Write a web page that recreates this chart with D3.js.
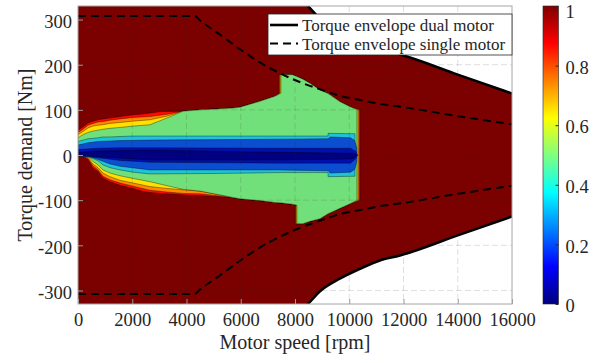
<!DOCTYPE html>
<html>
<head>
<meta charset="utf-8">
<script src="https://cdn.jsdelivr.net/npm/d3@7"></script>
<style>
  html, body { margin: 0; padding: 0; background: #fff; }
  svg { display: block; }
  text { font-family: "Liberation Serif", "Times New Roman", serif; fill: #262626; }
</style>
</head>
<body>
<svg id="chart" width="601" height="363"></svg>
<script>
// ---------------- data ----------------
// Axis ticks
const speedTicks = [0, 2000, 4000, 6000, 8000, 10000, 12000, 14000, 16000];
const torqueTicks = [-300, -200, -100, 0, 100, 200, 300];
const colorTicks = [0, 0.2, 0.4, 0.6, 0.8, 1];

// Torque envelopes [rpm] / [Nm]
const singleSpeed  = [0, 4300, 4500, 5250, 6000, 6700, 7450, 8200, 8900, 9650, 10400, 11150, 11900, 14000, 16000];
const singleTorque = [308, 308, 298, 266, 233, 205, 181, 161, 146, 131, 122, 113, 107, 86, 68];
const dualSpeed    = [0, 4300, 5250, 6000, 6700, 7450, 8200, 8450, 8900, 9650, 10400, 11150, 11900, 14000, 16000];
const dualTorque   = [616, 616, 532, 466, 410, 370, 342, 331, 303, 274, 252, 233, 222, 178, 136];

// Filled contour regions: rows of [speed rpm, upper Nm, lower Nm]
const band90 = [
  [0, 55, -2], [180, 62, -2], [370, 71, -11], [550, 75, -29], [740, 78, -37], [920, 80, -51],
  [1180, 82, -59], [1550, 85, -67], [2030, 89, -74], [2400, 91, -81], [2650, 93, -83], [3020, 96, -85],
  [3870, 97, -88], [4500, 100, -90], [5120, 102, -92], [5710, 104, -94], [5970, 106, -97],
  [6710, 119, -101], [7260, 130, -105], [7400, 136, -106], [7400, 178, -106], [7900, 178, -109],
  [8010, 175, -111], [8010, 175, -152], [8290, 168, -152], [8550, 159, -147], [8920, 144, -141],
  [9220, 136, -130], [9660, 118, -118], [10030, 107, -108], [10400, 100, -100]
];
const band80 = [
  [0, 50, -2], [180, 57, -2], [370, 66, -8], [550, 70, -24], [740, 73, -33], [920, 74, -47],
  [1180, 77, -55], [1550, 80, -62], [2030, 83, -69], [2650, 85, -78], [3280, 90, -82],
  [3870, 97, -85], [4500, 100, -86], [5120, 102, -90], [5710, 104, -94], [5970, 106, -97],
  [6710, 119, -101], [7260, 130, -105], [7430, 137, -106], [7430, 178, -106], [7900, 178, -109],
  [8030, 174, -111], [8030, 174, -152], [8290, 168, -152], [8550, 159, -147], [8920, 144, -141],
  [9220, 136, -130], [9660, 118, -118], [10030, 107, -108], [10360, 100, -100]
];
const band70 = [
  [0, 45, -2], [180, 52, -2], [370, 60, -6], [550, 64, -20], [740, 66, -28], [920, 67, -40],
  [1180, 70, -48], [1550, 72, -56], [2030, 75, -62], [2650, 78, -70], [3280, 86, -74],
  [3870, 97, -77], [4500, 100, -80], [5120, 102, -87], [5710, 104, -94], [5970, 106, -97],
  [6710, 119, -101], [7260, 130, -105], [7455, 137, -106], [7455, 178, -106], [7900, 178, -109],
  [8050, 174, -111], [8050, 174, -152], [8290, 168, -152], [8550, 159, -147], [8920, 144, -141],
  [9220, 136, -130], [9660, 118, -118], [10030, 107, -108], [10320, 100, -100]
];
const band50 = [
  [0, 38, -2], [180, 45, -2], [370, 50, -4], [550, 53, -14], [740, 55, -22], [920, 57, -33],
  [1180, 59, -40], [1550, 61, -46], [2030, 64, -52], [2650, 67, -59], [3280, 82, -68],
  [3870, 97, -76], [4500, 100, -80], [5120, 102, -87], [5710, 104, -94], [5970, 106, -97],
  [6710, 119, -101], [7260, 130, -105], [7480, 137, -106], [7480, 178, -106], [7900, 178, -109],
  [8070, 174, -111], [8070, 174, -152], [8290, 168, -152], [8550, 159, -147], [8920, 144, -141],
  [9220, 136, -130], [9660, 118, -118], [10030, 107, -108], [10280, 100, -100]
];
const band35 = [
  [0, 30, -2], [370, 36, -4], [550, 37, -8], [740, 38, -13], [920, 40, -22], [1180, 40, -28],
  [1550, 41, -33], [2030, 42, -38], [2650, 42, -42], [5000, 42, -41], [7400, 42, -39],
  [9220, 42, -39], [9220, 48, -48], [10210, 47, -47]
];
const band20 = [
  [0, 22, -2], [370, 27, -3], [740, 30, -10], [1180, 31, -20], [1550, 32, -25], [2650, 33, -33],
  [7400, 35, -33], [9220, 36, -35], [9300, 40, -40], [10050, 38, -38], [10200, 32, -32], [10280, 15, -15]
];
const band10 = [
  [0, 12, -1], [740, 15, -6], [1550, 16, -12], [2650, 16, -16], [7400, 15, -18],
  [10050, 15, -18], [10250, 8, -8], [10300, 0, 0]
];
const band05 = [
  [0, 6, 0], [740, 9, -4], [2650, 11, -11], [7400, 6, -11], [10100, 4, -9], [10300, 0, -1]
];
const bandColors = ["#ff0a00", "#ff8a00", "#ffe000", "#72e07a", "#1ec3d9", "#0b4ed0", "#0010b0", "#000080"];
const outerColor = "#7b0000";

// ---------------- layout ----------------
const svg = d3.select("#chart");
const x = d3.scaleLinear().domain([0, 16000]).range([78, 512]);
const y = d3.scaleLinear().domain([-330, 330]).range([304, 6]);
const [px0, px1] = x.range();
const [py1, py0] = y.range();

// jet colormap
const clamp = v => Math.max(0, Math.min(1, v));
const jet = t => d3.rgb(255 * clamp(1.5 - Math.abs(4 * t - 3)),
                        255 * clamp(1.5 - Math.abs(4 * t - 2)),
                        255 * clamp(1.5 - Math.abs(4 * t - 1))).toString();

const defs = svg.append("defs");
defs.append("clipPath").attr("id", "plotClip")
  .append("rect").attr("x", px0).attr("y", py0).attr("width", px1 - px0).attr("height", py1 - py0);

const plot = svg.append("g").attr("clip-path", "url(#plotClip)");

// feasible operating region (inside dual-motor envelope)
const envRows = dualSpeed.map((s, i) => [s, dualTorque[i]]);
plot.append("path")
  .datum(envRows)
  .attr("fill", outerColor)
  .attr("d", d3.area().curve(d3.curveMonotoneX).x(d => x(d[0])).y0(d => y(-d[1])).y1(d => y(d[1])));

// contour bands, outermost first
const bands = [band90, band80, band70, band50, band35, band20, band10, band05];
const bandArea = d3.area().x(d => x(d[0])).y0(d => y(d[2])).y1(d => y(d[1]));
bands.forEach((b, i) => {
  plot.append("path")
    .datum(b)
    .attr("fill", bandColors[i])
    .attr("stroke", "#000")
    .attr("stroke-opacity", 0.6)
    .attr("stroke-width", 0.6)
    .attr("stroke-linejoin", "round")
    .attr("d", bandArea);
});

// grid (drawn over the data)
const grid = svg.append("g").attr("stroke", "#262626").attr("stroke-opacity", 0.15)
  .attr("stroke-dasharray", "6,3").attr("stroke-width", 1);
speedTicks.slice(1, -1).forEach(t => grid.append("line")
  .attr("x1", x(t)).attr("x2", x(t)).attr("y1", py0).attr("y2", py1));
torqueTicks.forEach(t => grid.append("line")
  .attr("x1", px0).attr("x2", px1).attr("y1", y(t)).attr("y2", y(t)));

// envelopes
const upperLine = d3.line().curve(d3.curveMonotoneX).x(d => x(d[0])).y(d => y(d[1]));
const lowerLine = d3.line().curve(d3.curveMonotoneX).x(d => x(d[0])).y(d => y(-d[1]));
const singleRows = singleSpeed.map((s, i) => [s, singleTorque[i]]);
[upperLine, lowerLine].forEach(gen => {
  plot.append("path").datum(envRows).attr("fill", "none").attr("stroke", "#000")
    .attr("stroke-width", 2.6).attr("d", gen);
  plot.append("path").datum(singleRows).attr("fill", "none").attr("stroke", "#000")
    .attr("stroke-width", 2).attr("stroke-dasharray", "8,5").attr("d", gen);
});

// axes
const fmt = d => String(d);
const xAxis = svg.append("g").attr("transform", `translate(0,${py1})`)
  .call(d3.axisBottom(x).tickValues(speedTicks).tickFormat(fmt).tickSizeInner(-5).tickSizeOuter(0).tickPadding(9));
const yAxis = svg.append("g").attr("transform", `translate(${px0},0)`)
  .call(d3.axisLeft(y).tickValues(torqueTicks).tickFormat(fmt).tickSizeInner(-5).tickSizeOuter(0).tickPadding(6));
[xAxis, yAxis].forEach(a => {
  a.select(".domain").remove();
  a.selectAll(".tick line").attr("stroke", "#9a9a9a");
  a.selectAll(".tick text").attr("font-size", 18.5).attr("fill", "#262626")
    .style("font-family", '"Liberation Serif", serif');
});
yAxis.selectAll(".tick text").attr("dy", "0.42em");

svg.append("rect").attr("x", px0).attr("y", py0).attr("width", px1 - px0).attr("height", py1 - py0)
  .attr("fill", "none").attr("stroke", "#a6a6a6").attr("stroke-width", 1);

svg.append("text").attr("x", (px0 + px1) / 2).attr("y", 349).attr("text-anchor", "middle")
  .attr("font-size", 20).text("Motor speed [rpm]");
svg.append("text").attr("transform", `translate(32,${(py0 + py1) / 2}) rotate(-90)`)
  .attr("text-anchor", "middle").attr("font-size", 20).text("Torque demand [Nm]");

// legend
const lg = svg.append("g");
lg.append("rect").attr("x", 268).attr("y", 14).attr("width", 244).attr("height", 41)
  .attr("fill", "#fff").attr("stroke", "#262626").attr("stroke-width", 0.8);
lg.append("line").attr("x1", 270).attr("x2", 298).attr("y1", 25).attr("y2", 25)
  .attr("stroke", "#000").attr("stroke-width", 2.6);
lg.append("line").attr("x1", 270).attr("x2", 298).attr("y1", 43.5).attr("y2", 43.5)
  .attr("stroke", "#000").attr("stroke-width", 2).attr("stroke-dasharray", "8,5");
lg.append("text").attr("x", 302).attr("y", 31).attr("font-size", 17).attr("fill", "#000")
  .text("Torque envelope dual motor");
lg.append("text").attr("x", 302).attr("y", 49.5).attr("font-size", 17).attr("fill", "#000")
  .text("Torque envelope single motor");

// colorbar
const cbX = 543, cbW = 15.5;
const cy = d3.scaleLinear().domain([0, 1]).range([py1, py0]);
const grad = defs.append("linearGradient").attr("id", "jetGrad")
  .attr("x1", 0).attr("x2", 0).attr("y1", 1).attr("y2", 0);
d3.range(0, 1.0001, 1 / 64).forEach(t => grad.append("stop")
  .attr("offset", t).attr("stop-color", jet(t)));
svg.append("rect").attr("x", cbX).attr("y", py0).attr("width", cbW).attr("height", py1 - py0)
  .attr("fill", "url(#jetGrad)").attr("stroke", "#262626").attr("stroke-width", 0.6);
const cAxis = svg.append("g").attr("transform", `translate(${cbX + cbW},0)`)
  .call(d3.axisRight(cy).tickValues(colorTicks).tickFormat(fmt).tickSizeInner(-3).tickSizeOuter(0).tickPadding(7));
cAxis.select(".domain").remove();
cAxis.selectAll(".tick line").attr("stroke", "#262626");
cAxis.selectAll(".tick text").attr("font-size", 18.5).attr("fill", "#262626")
  .attr("dy", d => d === 1 ? "0.62em" : "0.42em")
  .style("font-family", '"Liberation Serif", serif');
</script>
</body>
</html>
